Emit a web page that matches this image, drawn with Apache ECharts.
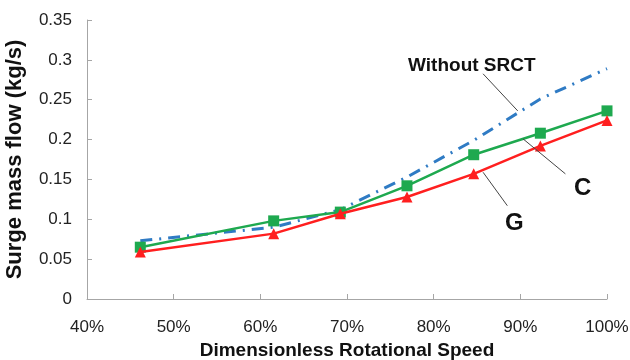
<!DOCTYPE html>
<html>
<head>
<meta charset="utf-8">
<style>
  html, body { margin: 0; padding: 0; background: #fff; }
  #chart { width: 630px; height: 360px; }
</style>
<script src="https://cdn.jsdelivr.net/npm/echarts@6/dist/echarts.min.js"></script>
</head>
<body>
<div id="chart"></div>
<script>
// Dimensionless rotational speed (%) of each operating point
const speeds = [46.15, 61.54, 69.23, 76.92, 84.62, 92.31, 100];
// Surge mass flow (kg/s)
const withoutSRCT = [0.073, 0.090, 0.112, 0.153, 0.199, 0.251, 0.289];
const caseC = [0.065, 0.098, 0.109, 0.142, 0.181, 0.208, 0.236];
const caseG = [0.059, 0.082, 0.107, 0.128, 0.157, 0.192, 0.224];
// Axis ticks
const xTicks = [40, 50, 60, 70, 80, 90, 100];
const yTicks = [0, 0.05, 0.1, 0.15, 0.2, 0.25, 0.3, 0.35];

// Callout labels: text, label anchor, leader line start/end (data coords)
const callouts = [
  { text: 'Without SRCT', size: 19, at: [84.4, 0.2925], from: [85.7, 0.2825], to: [89.7, 0.236] },
  { text: 'C', size: 24, at: [97.2, 0.139], from: [95.2, 0.157], to: [90.3, 0.201] },
  { text: 'G', size: 24, at: [89.3, 0.095], from: [88.5, 0.117], to: [85.7, 0.159] }
];

const FONT = 'Arial, "Liberation Sans", Helvetica, sans-serif';
const pairs = ys => speeds.map((x, i) => [x, ys[i]]);

const chart = echarts.init(document.getElementById('chart'), null, { renderer: 'canvas' });

const axisGrey = '#a6a6a6';

chart.setOption({
  animation: false,
  backgroundColor: '#ffffff',
  grid: { left: 87, right: 23, top: 20, bottom: 61, containLabel: false, outerBoundsMode: 'none' },
  xAxis: {
    type: 'value',
    min: xTicks[0],
    max: xTicks[xTicks.length - 1],
    interval: xTicks[1] - xTicks[0],
    name: 'Dimensionless Rotational Speed',
    nameLocation: 'middle',
    nameGap: 42,
    nameTextStyle: { fontFamily: FONT, fontWeight: 'bold', fontSize: 19, color: '#111' },
    axisLine: { show: true, lineStyle: { color: axisGrey, width: 1 } },
    axisTick: { show: true, inside: true, length: 5, lineStyle: { color: axisGrey } },
    splitLine: { show: false },
    axisLabel: {
      formatter: '{value}%', fontFamily: FONT, fontSize: 17, color: '#222', margin: 20
    }
  },
  yAxis: {
    type: 'value',
    min: yTicks[0],
    max: yTicks[yTicks.length - 1],
    interval: yTicks[1] - yTicks[0],
    name: 'Surge mass flow (kg/s)',
    nameLocation: 'middle',
    nameGap: 61,
    nameTextStyle: { fontFamily: FONT, fontWeight: 'bold', fontSize: 22, color: '#111' },
    axisLine: { show: true, lineStyle: { color: axisGrey, width: 1 } },
    axisTick: { show: true, inside: true, length: 5, lineStyle: { color: axisGrey } },
    splitLine: { show: false },
    axisLabel: {
      formatter: v => String(+v.toFixed(2)),
      fontFamily: FONT, fontSize: 17, color: '#222', margin: 15
    }
  },
  series: [
    {
      name: 'Without SRCT',
      type: 'line',
      data: pairs(withoutSRCT),
      showSymbol: false,
      symbol: 'none',
      lineStyle: { color: '#2f7bc4', width: 3, type: [12, 7, 2, 7], cap: 'butt' },
      z: 2
    },
    {
      name: 'C',
      type: 'line',
      data: pairs(caseC),
      symbol: 'rect',
      symbolSize: 11,
      itemStyle: { color: '#1ea94f' },
      lineStyle: { color: '#1ea94f', width: 2.5 },
      z: 3
    },
    {
      name: 'G',
      type: 'line',
      data: pairs(caseG),
      symbol: 'triangle',
      symbolSize: 11,
      itemStyle: { color: '#ff1f1f' },
      lineStyle: { color: '#ff1f1f', width: 2.5 },
      z: 4
    }
  ]
});

// Callout text and leader lines placed through the grid's coordinate system
const px = p => chart.convertToPixel({ gridIndex: 0 }, p);
const elements = [];
callouts.forEach(c => {
  const a = px(c.from), b = px(c.to), t = px(c.at);
  elements.push({
    type: 'line',
    shape: { x1: a[0], y1: a[1], x2: b[0], y2: b[1] },
    style: { stroke: '#444', lineWidth: 1 },
    z: 10
  });
  elements.push({
    type: 'text',
    x: t[0], y: t[1],
    style: {
      text: c.text, fill: '#111', font: 'bold ' + c.size + 'px ' + FONT,
      align: 'center', verticalAlign: 'middle'
    },
    z: 10
  });
});
chart.setOption({ graphic: { elements } });
</script>
</body>
</html>
